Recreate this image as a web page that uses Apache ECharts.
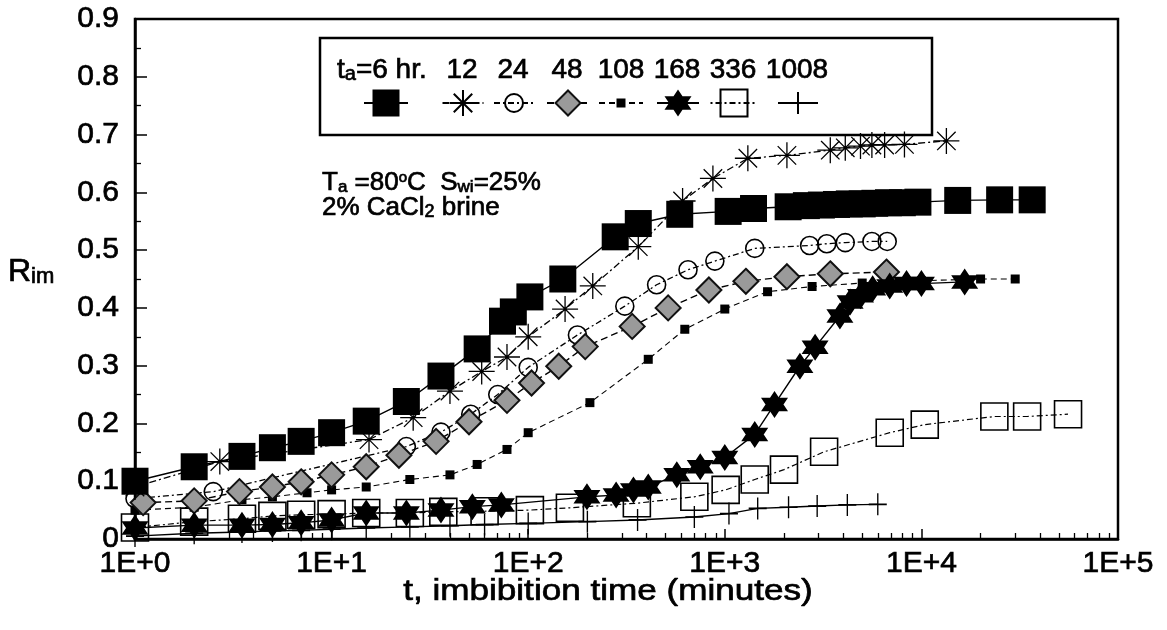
<!DOCTYPE html>
<html><head><meta charset="utf-8">
<script src="https://cdn.jsdelivr.net/npm/echarts@6/dist/echarts.min.js"></script>
<style>html,body{margin:0;padding:0;background:#fff}#c{width:1167px;height:630px}</style>
</head><body><div id="c"></div>
<script>
// ---- data (t in minutes, R_im fraction) ----
const t6 = [1, 2, 3.5, 5, 7, 10, 15, 24, 36, 55, 74, 84, 102, 150, 277, 363, 590, 1040, 1400, 2100, 2600, 3100, 3700, 4300, 5000, 5800, 6800, 8000, 9600, 15300, 25000, 36600];
const r6 = [0.10, 0.125, 0.143, 0.158, 0.169, 0.184, 0.204, 0.238, 0.282, 0.329, 0.377, 0.393, 0.419, 0.45, 0.523, 0.546, 0.562, 0.567, 0.572, 0.575, 0.577, 0.578, 0.579, 0.580, 0.580, 0.581, 0.582, 0.582, 0.583, 0.586, 0.587, 0.587];
const t12 = [1, 2.7, 15.5, 26, 40, 58, 78, 100, 154, 213, 363, 610, 870, 1310, 2070, 3440, 4100, 4900, 5600, 6500, 8200, 13400];
const r12 = [0.09, 0.134, 0.172, 0.21, 0.256, 0.29, 0.315, 0.35, 0.398, 0.438, 0.506, 0.585, 0.624, 0.659, 0.664, 0.673, 0.677, 0.68, 0.682, 0.682, 0.683, 0.689];
const t24 = [1, 2.5, 24, 36, 51, 70, 100, 178, 310, 450, 650, 890, 1420, 2700, 3300, 4100, 5600, 6700];
const r24 = [0.07, 0.082, 0.16, 0.185, 0.216, 0.25, 0.297, 0.353, 0.403, 0.44, 0.466, 0.481, 0.503, 0.508, 0.511, 0.513, 0.515, 0.515];
const t48 = [1.1, 2, 3.4, 5, 7, 10, 15, 22, 34, 50, 78, 104, 143, 195, 338, 515, 830, 1280, 2070, 3440, 6640];
const r48 = [0.063, 0.066, 0.082, 0.09, 0.099, 0.111, 0.125, 0.145, 0.169, 0.203, 0.24, 0.27, 0.299, 0.333, 0.368, 0.4, 0.431, 0.446, 0.454, 0.459, 0.462];
const t108 = [1, 2, 3.5, 5, 7.5, 10, 15, 25, 40, 55, 78, 100, 206, 408, 626, 1000, 1650, 2780, 5000, 10000, 20000, 30000];
const r108 = [0.05, 0.055, 0.068, 0.073, 0.08, 0.085, 0.09, 0.103, 0.111, 0.129, 0.155, 0.184, 0.236, 0.311, 0.363, 0.398, 0.428, 0.437, 0.443, 0.447, 0.45, 0.45];
const t168 = [1, 2, 3.5, 5, 7, 10, 15, 24, 36, 52, 73, 199, 280, 343, 408, 570, 750, 1000, 1420, 1790, 2410, 2880, 3850, 4340, 4900, 5650, 6900, 8400, 10000, 16600];
const r168 = [0.019, 0.024, 0.024, 0.025, 0.028, 0.033, 0.045, 0.045, 0.05, 0.056, 0.059, 0.073, 0.076, 0.085, 0.09, 0.111, 0.125, 0.141, 0.181, 0.233, 0.299, 0.332, 0.386, 0.41, 0.421, 0.433, 0.438, 0.442, 0.442, 0.445];
const t336 = [1, 2, 3.5, 5, 7, 10, 15, 25, 37, 60, 102, 163, 357, 700, 1010, 1420, 2000, 3200, 6900, 10400, 23500, 34500, 55700];
const r336 = [0.02, 0.03, 0.035, 0.04, 0.042, 0.043, 0.045, 0.045, 0.047, 0.048, 0.05, 0.054, 0.062, 0.073, 0.085, 0.103, 0.12, 0.151, 0.184, 0.198, 0.212, 0.212, 0.216];
const t1008 = [1, 2, 3.5, 5, 7, 10, 15, 25, 40, 60, 100, 200, 360, 700, 1050, 1470, 2110, 2950, 4200, 6000];
const r1008 = [0.005, 0.01, 0.012, 0.014, 0.015, 0.017, 0.019, 0.021, 0.023, 0.025, 0.027, 0.03, 0.033, 0.038, 0.044, 0.053, 0.055, 0.057, 0.059, 0.06];

const seriesNames = ['6', '12', '24', '48', '108', '168', '336', '1008'];
const legendLabels = ['t{s|a}=6 hr.', '12', '24', '48', '108', '168', '336', '1008'];
const xTickLabels = ['1E+0', '1E+1', '1E+2', '1E+3', '1E+4', '1E+5'];
const yTickValues = [0, 0.1, 0.2, 0.3, 0.4, 0.5, 0.6, 0.7, 0.8, 0.9];
const noteLine1 = 'T{s|a} =80{o|o}C  S{s|wi}=25%';
const noteLine2 = '2% CaCl{s|2} brine';
const xTitle = 't, imbibition time (minutes)';

const FONT = '"Liberation Sans", Arial, Helvetica, sans-serif';
const THICK = {textBorderColor: '#000', textBorderWidth: 0.7};   // for axis labels
const GTHICK = {stroke: '#000', lineWidth: 0.7};                  // for graphic texts
const pairs = (t, r) => t.map((v, i) => [v, r[i]]);

// minor ticks of the log axis (2..9 within each decade)
const minorTicks = [];
for (let d = 0; d < 5; d++) for (let k = 2; k <= 9; k++) minorTicks.push(d + Math.log10(k));

const ASTER = 'path://M0,10 L20,10 M10,0 L10,20 M2.9,2.9 L17.1,17.1 M17.1,2.9 L2.9,17.1';
const STAR6 = 'path://M10,0 L18.66,15 L1.34,15 Z M10,20 L1.34,5 L18.66,5 Z';
const PLUS = 'path://M0,10 L20,10 M10,0 L10,20';

const defs = {
  '6':    {data: pairs(t6, r6), symbol: 'rect', size: 27, item: {color: '#000'}, line: {type: 'solid', width: 1.4}},
  '12':   {data: pairs(t12, r12), symbol: ASTER, size: 26, item: {color: 'rgba(0,0,0,0)', borderColor: '#000', borderWidth: 1.3}, line: {type: [7, 3, 2, 3], width: 1.3}},
  '24':   {data: pairs(t24, r24), symbol: 'circle', size: 18, item: {color: 'rgba(0,0,0,0)', borderColor: '#000', borderWidth: 1.6}, line: {type: [6, 3, 2, 3], width: 1.3}},
  '48':   {data: pairs(t48, r48), symbol: 'diamond', size: 25, item: {color: '#9a9a9a', borderColor: '#111', borderWidth: 2}, line: {type: [7, 4], width: 1.4}},
  '108':  {data: pairs(t108, r108), symbol: 'rect', size: 9, item: {color: '#000'}, line: {type: [6, 4], width: 1.1}},
  '168':  {data: pairs(t168, r168), symbol: STAR6, size: 27, item: {color: '#000'}, line: {type: 'solid', width: 1.4}},
  '336':  {data: pairs(t336, r336), symbol: 'rect', size: 27, item: {color: 'rgba(0,0,0,0)', borderColor: '#000', borderWidth: 1.6}, line: {type: [2, 3, 6, 3], width: 1.2}},
  '1008': {data: pairs(t1008, r1008), symbol: PLUS, size: [18, 22], item: {color: 'rgba(0,0,0,0)', borderColor: '#000', borderWidth: 1.5}, line: {type: 'solid', width: 1.4}}
};
const drawOrder = ['1008', '336', '108', '24', '48', '12', '168', '6'];

const series = drawOrder.map((n) => {
  const d = defs[n];
  return {
    name: n, type: 'line', data: d.data, symbol: d.symbol, symbolSize: d.size,
    showAllSymbol: true, animation: false, silent: true,
    itemStyle: Object.assign({}, d.item),
    lineStyle: {color: '#000', type: d.line.type, width: d.line.width}
  };
});

// legend layout (symbol row)
const legendX = [385, 462, 513, 567, 620, 677, 733, 797];
const legendTextX = [337, 462, 513, 567, 621, 677, 733, 797];
const legendW = [44, 41, 40, 42, 44, 42, 47, 40];
const legendY = 103;
const legends = seriesNames.map((n, i) => {
  const d = defs[n];
  const s = Array.isArray(d.size) ? d.size[1] : d.size;
  const h = s / 0.8;
  return {
    data: [n], selectedMode: false, orient: 'horizontal',
    left: legendX[i] - legendW[i] / 2, top: legendY - h / 2,
    itemWidth: legendW[i], itemHeight: h, itemGap: 0, padding: 0,
    formatter: () => '', textStyle: {fontSize: 1}
  };
});

const subStyle = (fs, va) => Object.assign({fontSize: fs, fontFamily: FONT, lineHeight: 6, verticalAlign: va, fill: '#000'}, GTHICK);

const graphics = [
  {type: 'rect', shape: {x: 320, y: 38, width: 612, height: 97}, style: {fill: 'none', stroke: '#000', lineWidth: 2.5}, z: 10}
];
legendLabels.forEach((txt, i) => {
  graphics.push({
    type: 'text', x: legendTextX[i], y: 70, z: 11,
    style: Object.assign({
      text: txt, fill: '#000', fontFamily: FONT, fontSize: 28,
      textAlign: i === 0 ? 'left' : 'center', textVerticalAlign: 'middle',
      rich: {s: subStyle(20, 'bottom')}
    }, GTHICK)
  });
});
graphics.push({
  type: 'text', x: 322, y: 183, z: 11,
  style: Object.assign({text: noteLine1, fill: '#000', fontFamily: FONT, fontSize: 26, textVerticalAlign: 'middle',
    rich: {s: subStyle(17, 'bottom'), o: subStyle(15, 'top')}}, GTHICK)
});
graphics.push({
  type: 'text', x: 322, y: 208, z: 11,
  style: Object.assign({text: noteLine2, fill: '#000', fontFamily: FONT, fontSize: 26, textVerticalAlign: 'middle',
    rich: {s: subStyle(18, 'bottom')}}, GTHICK)
});
graphics.push({
  type: 'text', x: 8, y: 272, z: 11,
  style: Object.assign({text: 'R{s|im}', fill: '#000', fontFamily: FONT, fontSize: 32, textVerticalAlign: 'middle',
    rich: {s: subStyle(22, 'bottom')}}, GTHICK)
});
graphics.push({
  type: 'text', x: 608, y: 592, scaleX: 1.17, z: 11,
  style: Object.assign({text: xTitle, fill: '#000', fontFamily: FONT, fontSize: 30, textAlign: 'center', textVerticalAlign: 'middle'}, GTHICK)
});

const chart = echarts.init(document.getElementById('c'), null, {renderer: 'canvas'});
chart.setOption({
  animation: false,
  backgroundColor: '#fff',
  grid: {left: 135, right: 49, top: 19, bottom: 91, show: true, borderColor: '#000', borderWidth: 2.5, backgroundColor: 'transparent'},
  xAxis: [{
    type: 'log', logBase: 10, min: 1, max: 100000, splitNumber: 5,
    axisLine: {lineStyle: {color: '#000', width: 2.5}},
    axisTick: {inside: true, length: 10, lineStyle: {color: '#000', width: 1.5}},
    minorTick: {show: false},
    splitLine: {show: false},
    axisLabel: Object.assign({color: '#000', fontFamily: FONT, fontSize: 30, margin: 10,
      formatter: (v) => xTickLabels[Math.round(Math.log10(v))]}, THICK)
  }, {
    type: 'value', min: 0, max: 5, position: 'bottom',
    axisLine: {show: false}, axisLabel: {show: false}, splitLine: {show: false},
    axisTick: {show: true, inside: true, length: 6, customValues: minorTicks, lineStyle: {color: '#000', width: 1.3}}
  }],
  yAxis: {
    type: 'value', min: 0, max: 0.9, interval: 0.1,
    axisLine: {show: true, lineStyle: {color: '#000', width: 2.5}},
    axisTick: {show: true, inside: true, length: 12, lineStyle: {color: '#000', width: 1.5}},
    minorTick: {show: true, splitNumber: 2, length: 6, lineStyle: {color: '#000', width: 1.3}},
    splitLine: {show: false},
    axisLabel: Object.assign({color: '#000', fontFamily: FONT, fontSize: 30, margin: 16,
      formatter: (v) => { const i = yTickValues.findIndex((y) => Math.abs(y - v) < 1e-9); return i >= 0 ? String(yTickValues[i]) : ''; }}, THICK)
  },
  legend: legends,
  series: series,
  graphic: graphics
});
</script></body></html>
